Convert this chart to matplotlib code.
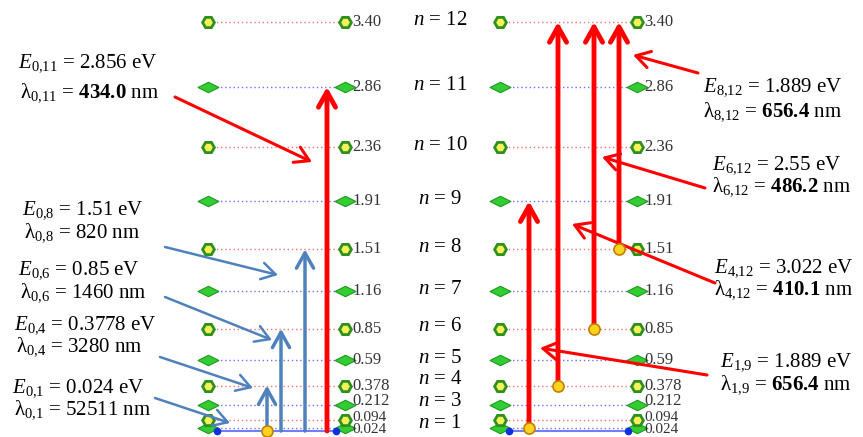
import numpy as np
import matplotlib.pyplot as plt
from matplotlib.path import Path

plt.rcParams['font.family'] = 'Liberation Serif'
plt.rcParams['mathtext.fontset'] = 'custom'
plt.rcParams['mathtext.rm'] = 'Liberation Serif'
plt.rcParams['mathtext.it'] = 'Liberation Serif:italic'
plt.rcParams['mathtext.bf'] = 'Liberation Serif:bold'

# energy levels in eV, n = 1..12
n_values = [1, 2, 3, 4, 5, 6, 7, 8, 9, 10, 11, 12]
energies = [0.024, 0.094, 0.212, 0.378, 0.59, 0.85, 1.16, 1.51, 1.91, 2.36, 2.86, 3.40]
level_labels = ["0.024", "0.094", "0.212", "0.378", "0.59", "0.85",
                "1.16", "1.51", "1.91", "2.36", "2.86", "3.40"]
n_shown = [1, 3, 4, 5, 6, 7, 8, 9, 10, 11, 12]

# transitions: (lower n, upper n), n = 0 is the base line at 0 eV
left_trans = [(0, 4), (0, 6), (0, 8), (0, 11)]
right_trans = [(1, 9), (4, 12), (6, 12), (8, 12)]

# annotation texts: subscript, energy, wavelength, bold wavelength
left_notes = [("0,11", "2.856", "434.0", True),
              ("0,8", "1.51", "820", False),
              ("0,6", "0.85", "1460", False),
              ("0,4", "0.3778", "3280", False),
              ("0,1", "0.024", "52511", False)]
right_notes = [("8,12", "1.889", "656.4"),
               ("6,12", "2.55", "486.2"),
               ("4,12", "3.022", "410.1"),
               ("1,9", "1.889", "656.4")]


def ey(y):
    # pixel row -> energy, for placing text
    return (431 - y) / 120.3


def en(n):
    return 0.0 if n == 0 else energies[n - 1]


def sub(s):
    # keep the comma tight inside mathtext
    return s.replace(",", "{,}")


diamond = Path([(-1, 0), (0, 0.5), (1, 0), (0, -0.5), (-1, 0)],
               [Path.MOVETO, Path.LINETO, Path.LINETO, Path.LINETO, Path.CLOSEPOLY])

c_red = "#ff0000"
c_blue = "#4f81bd"

fig = plt.figure(figsize=(8.63, 4.37), dpi=100)
ax = fig.add_axes([0, 0, 1, 1])
ax.set_xlim(0, 863)
ax.set_ylim(ey(437), ey(0))
ax.axis("off")

# small vertical nudges (px) so the crowded bottom labels don't collide
label_nudge = {1: 1.5, 2: -2, 3: -4}
n_nudge = {4: -4, 3: -2, 1: -3}


def ladder(x0, x1):
    for n, e, lab in zip(n_values, energies, level_labels):
        if n % 2 == 0:
            ax.plot([x0, x1], [e, e], color="#ff6f6f", lw=1, ls=(0, (1, 2)), zorder=1)
            for x in (x0, x1):
                ax.plot(x, e, marker="H", ms=8.5, mfc="#f4f25a", mec="#2f8f1f", mew=2, zorder=3)
        else:
            ax.plot([x0, x1], [e, e], color="#6f6fff", lw=1, ls=(0, (1, 2)), zorder=1)
            for x in (x0, x1):
                ax.plot(x, e, marker=diamond, ms=15, mfc="#33cc33", mec="#1f9a1f", mew=0.8, zorder=3)
        ye = e - label_nudge.get(n, 0) / 120.3
        ax.text(x1 + 7, ye, lab, fontsize=11 if n <= 2 else 12, va="center", ha="left", color="#333333")
    # base line
    ax.plot([x0 + 9, x1 - 9], [0.0, 0.0], color="#6f7fff", lw=1.5, zorder=2)
    ax.plot([x0 + 9, x1 - 9], [0.0, 0.0], "o", color="#1030e0", ms=4.5, zorder=4)


ladder(208, 345)
ladder(500, 637)

# n labels in the middle
for n in n_shown:
    ax.text(440, en(n) + 0.015 - n_nudge.get(n, 0) / 120.3, r"$n$ = %d" % n,
            fontsize=15, ha="center", va="center")


def transition(x, lo, hi, color, lw):
    ax.annotate("", xy=(x, en(hi)), xytext=(x, en(lo)),
                arrowprops=dict(arrowstyle="->,head_length=0.5,head_width=0.28", color=color,
                                lw=lw, shrinkA=0, shrinkB=0, mutation_scale=22), zorder=5)


left_x = [267, 281, 305, 327]
for x, (lo, hi) in zip(left_x, left_trans):
    col = c_red if hi == 11 else c_blue
    transition(x, lo, hi, col, 3.5 if col == c_red else 2.5)
ax.plot(267, 0.0, "o", ms=8, mfc="#ffd21f", mec="#c08000", mew=1.2, zorder=6)

right_x = [529, 558, 594, 619]
for x, (lo, hi) in zip(right_x, right_trans):
    transition(x, lo, hi, c_red, 3.5)
    ax.plot(x, en(lo), "o", ms=8, mfc="#ffd21f", mec="#c08000", mew=1.2, zorder=6)

# text blocks
fs = 15
left_pos = [(18, 63, 93), (22, 210, 233), (18, 270, 293), (14, 325, 347), (12, 388, 410)]
for (s, e, lam, bold), (x, y1, y2) in zip(left_notes, left_pos):
    ax.text(x, ey(y1), r"$E_{%s}$ = %s eV" % (sub(s), e), fontsize=fs, va="center")
    num = r"$\mathbf{%s}$" % lam if bold else lam
    ax.text(x + 2, ey(y2), u"\u03bb" + r"$_{%s}$ = " % sub(s) + num + " nm", fontsize=fs, va="center")

right_pos = [(703, 87, 112), (712, 165, 187), (714, 268, 290), (720, 362, 385)]
for (s, e, lam), (x, y1, y2) in zip(right_notes, right_pos):
    ax.text(x, ey(y1), r"$E_{%s}$ = %s eV" % (sub(s), e), fontsize=fs, va="center")
    ax.text(x, ey(y2), u"\u03bb" + r"$_{%s}$ = $\mathbf{%s}$ nm" % (sub(s), lam), fontsize=fs, va="center")

# pointer arrows (tail px, head px)
pointers = [((175, 97), (312, 162), c_red),
            ((165, 247), (278, 275), c_blue),
            ((165, 297), (272, 340), c_blue),
            ((160, 357), (253, 388), c_blue),
            ((155, 398), (230, 423), c_blue),
            ((698, 73), (633, 55), c_red),
            ((705, 188), (602, 157), c_red),
            ((715, 283), (572, 224), c_red),
            ((707, 375), (540, 348), c_red)]
for (tx, ty), (hx, hy), col in pointers:
    ax.annotate("", xy=(hx, ey(hy)), xytext=(tx, ey(ty)),
                arrowprops=dict(arrowstyle="->,head_length=0.5,head_width=0.3", color=col,
                                lw=2.2 if col == c_red else 1.8, shrinkA=0, shrinkB=0,
                                mutation_scale=20), zorder=5)

fig.savefig("out.png", dpi=100)
